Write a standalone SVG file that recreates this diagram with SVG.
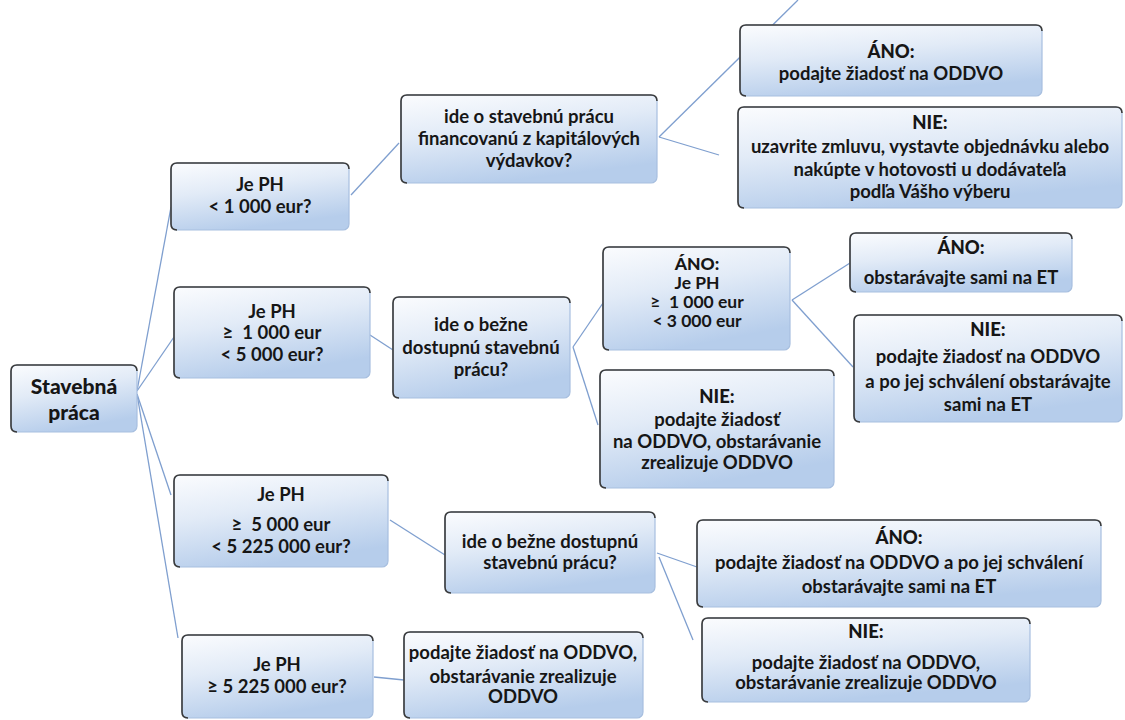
<svg xmlns="http://www.w3.org/2000/svg" width="1125" height="720" viewBox="0 0 1125 720">
<defs>
<linearGradient id="fill" x1="0" y1="0" x2="0.35" y2="1">
<stop offset="0" stop-color="#fbfcfe"/>
<stop offset="0.45" stop-color="#e2ebf7"/>
<stop offset="1" stop-color="#b6cdeb"/>
</linearGradient>
<style>
.box{fill:url(#fill);stroke:#a7bfdf;stroke-width:1.2}
.edge{fill:none;stroke:#3a3a3a;stroke-width:1.6}
.t{font-family:Lato,"Liberation Sans",Arial,sans-serif;font-size:18.5px;font-weight:700;fill:#161616;text-anchor:middle;white-space:pre}
.h{font-weight:900}
.s{font-size:17.5px}
.root{font-size:21px;font-weight:900}
.con{fill:none;stroke:#7f9fcf;stroke-width:1.3}
</style>
</defs>
<rect width="1125" height="720" fill="#ffffff"/>
<g id="connectors">
<path class="con" d="M137,391 L171,207"/>
<path class="con" d="M137,391 L174,337"/>
<path class="con" d="M137,394 L171,495"/>
<path class="con" d="M137,394 L178,638"/>
<path class="con" d="M351,195 L399,143"/>
<path class="con" d="M659,137 L798,0"/>
<path class="con" d="M659,137 L719,155"/>
<path class="con" d="M370,335 L393,350"/>
<path class="con" d="M573,347 L603,303"/>
<path class="con" d="M573,347 L598,425"/>
<path class="con" d="M792,300 L850,263"/>
<path class="con" d="M792,300 L853,367"/>
<path class="con" d="M390,520 L445,555"/>
<path class="con" d="M657,553 L697,567"/>
<path class="con" d="M659,557 L693,640"/>
<path class="con" d="M374,677 L404,680"/>
</g>
<g id="root">
<rect class="box" x="11" y="365" width="126" height="67" rx="6"/>
<path class="edge" d="M17,432 Q11,432 11,426 V371 Q11,365 17,365 H131 Q137,365 137,371"/>
<text class="t root" x="74" y="394">Stavebná</text>
<text class="t root" x="74" y="420">práca</text>
</g>
<g id="n1">
<rect class="box" x="171" y="163" width="178" height="67" rx="6"/>
<path class="edge" d="M177,230 Q171,230 171,224 V169 Q171,163 177,163 H343 Q349,163 349,169"/>
<text class="t" x="260" y="191">Je PH</text>
<text class="t" x="260" y="213">&lt; 1 000 eur?</text>
</g>
<g id="n1a">
<rect class="box" x="401" y="95" width="256" height="88" rx="6"/>
<path class="edge" d="M407,183 Q401,183 401,177 V101 Q401,95 407,95 H651 Q657,95 657,101"/>
<text class="t" x="529" y="123">ide o stavebnú prácu</text>
<text class="t" x="529" y="145">financovanú z kapitálových</text>
<text class="t" x="529" y="167">výdavkov?</text>
</g>
<g id="n1a-ano">
<rect class="box" x="740" y="25" width="302" height="71" rx="6"/>
<path class="edge" d="M746,96 Q740,96 740,90 V31 Q740,25 746,25 H1036 Q1042,25 1042,31"/>
<text class="t h" x="891" y="58">ÁNO:</text>
<text class="t" x="891" y="80">podajte žiadosť na ODDVO</text>
</g>
<g id="n1a-nie">
<rect class="box" x="738" y="107" width="384" height="101" rx="6"/>
<path class="edge" d="M744,208 Q738,208 738,202 V113 Q738,107 744,107 H1116 Q1122,107 1122,113"/>
<text class="t h" x="930" y="129">NIE:</text>
<text class="t" x="930" y="153">uzavrite zmluvu, vystavte objednávku alebo</text>
<text class="t" x="930" y="176">nakúpte v hotovosti u dodávateľa</text>
<text class="t" x="930" y="198">podľa Vášho výberu</text>
</g>
<g id="n2">
<rect class="box" x="174" y="287" width="196" height="91" rx="6"/>
<path class="edge" d="M180,378 Q174,378 174,372 V293 Q174,287 180,287 H364 Q370,287 370,293"/>
<text class="t" x="272" y="318">Je PH</text>
<text class="t" x="272" y="339">≥  1 000 eur</text>
<text class="t" x="272" y="361">&lt; 5 000 eur?</text>
</g>
<g id="n2a">
<rect class="box" x="393" y="297" width="177" height="101" rx="6"/>
<path class="edge" d="M399,398 Q393,398 393,392 V303 Q393,297 399,297 H564 Q570,297 570,303"/>
<text class="t" x="481" y="331">ide o bežne</text>
<text class="t" x="481" y="354">dostupnú stavebnú</text>
<text class="t" x="481" y="376">prácu?</text>
</g>
<g id="n2a-ano">
<rect class="box" x="603" y="247" width="187" height="103" rx="6"/>
<path class="edge" d="M609,350 Q603,350 603,344 V253 Q603,247 609,247 H784 Q790,247 790,253"/>
<text class="t s h" x="697" y="270">ÁNO:</text>
<text class="t s" x="697" y="289">Je PH</text>
<text class="t s" x="697" y="308">≥  1 000 eur</text>
<text class="t s" x="697" y="327">&lt; 3 000 eur</text>
</g>
<g id="n2a-ano-ano">
<rect class="box" x="850" y="233" width="222" height="59" rx="6"/>
<path class="edge" d="M856,292 Q850,292 850,286 V239 Q850,233 856,233 H1066 Q1072,233 1072,239"/>
<text class="t h" x="961" y="254">ÁNO:</text>
<text class="t" x="961" y="284">obstarávajte sami na ET</text>
</g>
<g id="n2a-ano-nie">
<rect class="box" x="854" y="315" width="268" height="107" rx="6"/>
<path class="edge" d="M860,422 Q854,422 854,416 V321 Q854,315 860,315 H1116 Q1122,315 1122,321"/>
<text class="t h" x="988" y="336">NIE:</text>
<text class="t" x="988" y="363">podajte žiadosť na ODDVO</text>
<text class="t" x="988" y="388">a po jej schválení obstarávajte</text>
<text class="t" x="988" y="411">sami na ET</text>
</g>
<g id="n2a-nie">
<rect class="box" x="600" y="370" width="234" height="118" rx="6"/>
<path class="edge" d="M606,488 Q600,488 600,482 V376 Q600,370 606,370 H828 Q834,370 834,376"/>
<text class="t h" x="717" y="403">NIE:</text>
<text class="t" x="717" y="426">podajte žiadosť</text>
<text class="t" x="717" y="448">na ODDVO, obstarávanie</text>
<text class="t" x="717" y="469">zrealizuje ODDVO</text>
</g>
<g id="n3">
<rect class="box" x="174" y="475" width="214" height="92" rx="6"/>
<path class="edge" d="M180,567 Q174,567 174,561 V481 Q174,475 180,475 H382 Q388,475 388,481"/>
<text class="t" x="281" y="501">Je PH</text>
<text class="t" x="281" y="531">≥  5 000 eur</text>
<text class="t" x="281" y="553">&lt; 5 225 000 eur?</text>
</g>
<g id="n3a">
<rect class="box" x="445" y="512" width="210" height="81" rx="6"/>
<path class="edge" d="M451,593 Q445,593 445,587 V518 Q445,512 451,512 H649 Q655,512 655,518"/>
<text class="t" x="550" y="548">ide o bežne dostupnú</text>
<text class="t" x="550" y="569">stavebnú prácu?</text>
</g>
<g id="n3a-ano">
<rect class="box" x="697" y="520" width="404" height="87" rx="6"/>
<path class="edge" d="M703,607 Q697,607 697,601 V526 Q697,520 703,520 H1095 Q1101,520 1101,526"/>
<text class="t h" x="899" y="544">ÁNO:</text>
<text class="t" x="899" y="569">podajte žiadosť na ODDVO a po jej schválení</text>
<text class="t" x="899" y="593">obstarávajte sami na ET</text>
</g>
<g id="n3a-nie">
<rect class="box" x="702" y="618" width="328" height="84" rx="6"/>
<path class="edge" d="M708,702 Q702,702 702,696 V624 Q702,618 708,618 H1024 Q1030,618 1030,624"/>
<text class="t h" x="866" y="638">NIE:</text>
<text class="t" x="866" y="669">podajte žiadosť na ODDVO,</text>
<text class="t" x="866" y="689">obstarávanie zrealizuje ODDVO</text>
</g>
<g id="n4">
<rect class="box" x="182" y="635" width="191" height="83" rx="6"/>
<path class="edge" d="M188,718 Q182,718 182,712 V641 Q182,635 188,635 H367 Q373,635 373,641"/>
<text class="t" x="277" y="671">Je PH</text>
<text class="t" x="277" y="693">≥ 5 225 000 eur?</text>
</g>
<g id="n4a">
<rect class="box" x="404" y="632" width="239" height="86" rx="6"/>
<path class="edge" d="M410,718 Q404,718 404,712 V638 Q404,632 410,632 H637 Q643,632 643,638"/>
<text class="t" x="523" y="659">podajte žiadosť na ODDVO,</text>
<text class="t" x="523" y="683">obstarávanie zrealizuje</text>
<text class="t" x="523" y="703">ODDVO</text>
</g>
</svg>
